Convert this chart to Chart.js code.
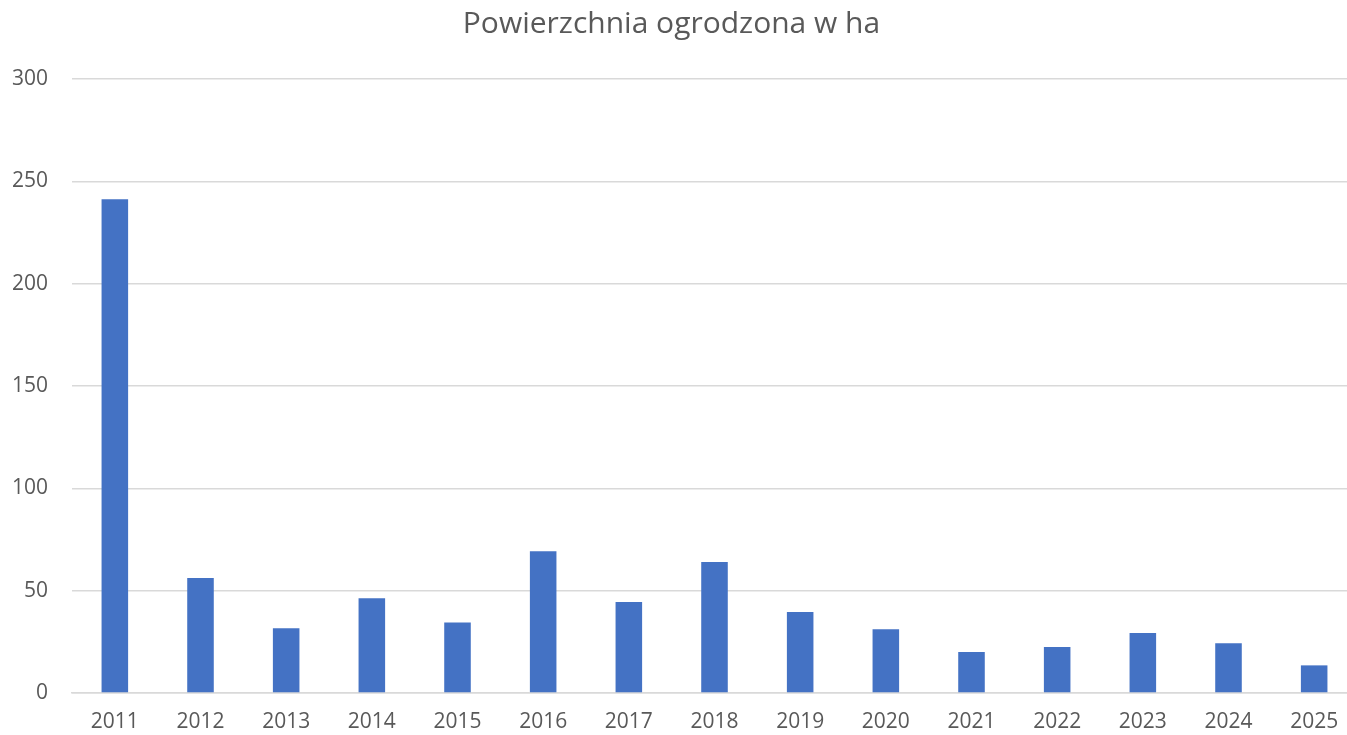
<!DOCTYPE html>
<html>
<head>
<meta charset="utf-8">
<script src="https://cdn.jsdelivr.net/npm/chart.js@4.4.0/dist/chart.umd.min.js"></script>
<style>
html,body{margin:0;padding:0;background:#fff;overflow:hidden;}
#wrap{width:1347px;height:735px;position:relative;overflow:hidden;}
#c{display:block;}
</style>
</head>
<body>
<div id="wrap"><canvas id="c" width="1357" height="735"></canvas></div>
<script>
const titleText = "Powierzchnia ogrodzona w ha";
const years = ["2011","2012","2013","2014","2015","2016","2017","2018","2019","2020","2021","2022","2023","2024","2025"];
const areaHa = [241.3, 56.2, 31.6, 46.3, 34.5, 69.2, 44.5, 64.0, 39.6, 31.1, 20.0, 22.5, 29.3, 24.3, 13.5];
const yTicks = [0, 50, 100, 150, 200, 250, 300];

new Chart(document.getElementById('c'), {
  type: 'bar',
  data: {
    labels: years,
    datasets: [{
      data: areaHa,
      backgroundColor: '#4472C4',
      borderWidth: 0,
      barPercentage: 1,
      categoryPercentage: 0.31
    }]
  },
  options: {
    responsive: false,
    animation: false,
    devicePixelRatio: 1,
    layout: { padding: { left: -14, right: 0, top: 0, bottom: 0 } },
    plugins: {
      legend: { display: false },
      tooltip: { enabled: false },
      title: {
        display: true,
        text: titleText,
        color: '#595959',
        font: { family: "'Open Sans', sans-serif", size: 30, weight: 'normal', lineHeight: 1.2 },
        padding: { top: 6, bottom: 37 }
      }
    },
    scales: {
      x: {
        grid: { display: false, drawTicks: false },
        border: { display: true, color: '#d9d9d9', width: 1.5 },
        ticks: { color: '#595959', font: { family: "'Open Sans', sans-serif", size: 21 }, padding: 16, maxRotation: 0 },
        afterFit(scale) { scale.height = 42; }
      },
      y: {
        min: 0, max: 300,
        afterBuildTicks(scale) { scale.ticks = yTicks.map(v => ({ value: v })); },
        grid: { color: '#d9d9d9', lineWidth: 1.5, drawTicks: false },
        border: { display: false },
        ticks: { color: '#595959', font: { family: "'Open Sans', sans-serif", size: 21 }, padding: 24 },
        afterFit(scale) { scale.width = 86; }
      }
    }
  }
});
</script>
</body>
</html>
